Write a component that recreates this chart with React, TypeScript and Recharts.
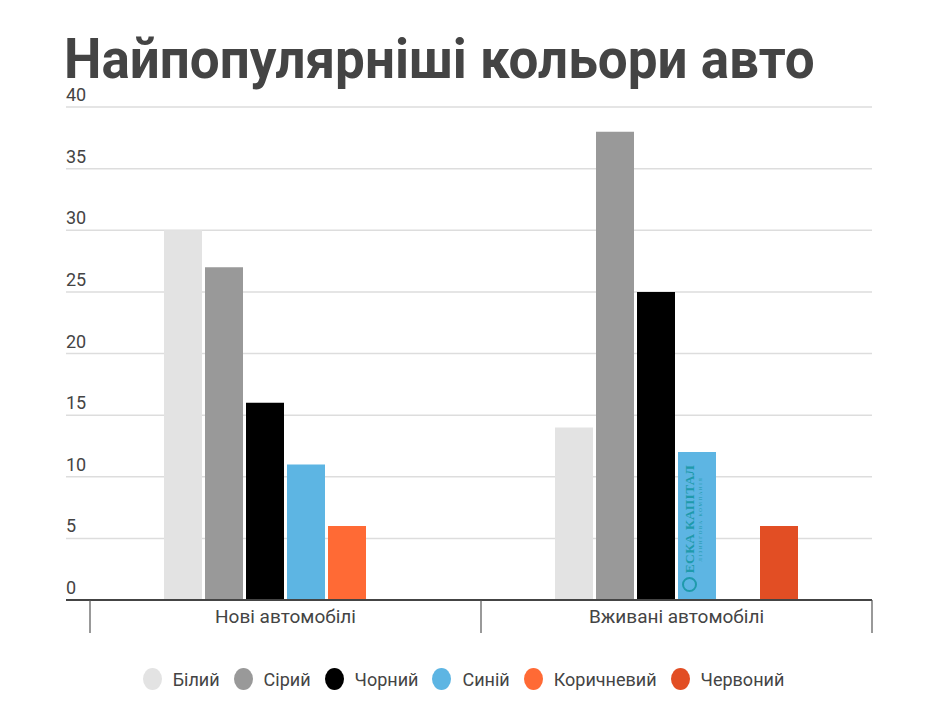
import React from 'react';
import { BarChart, Bar, XAxis, YAxis, CartesianGrid, Legend } from 'recharts';

const categories = ['Нові автомобілі', 'Вживані автомобілі'];
const seriesNames = ['Білий', 'Сірий', 'Чорний', 'Синій', 'Коричневий', 'Червоний'];
const seriesKeys = ['white', 'gray', 'black', 'blue', 'brown', 'red'];
const white = [30, 14];
const gray = [27, 38];
const black = [16, 25];
const blue = [11, 12];
const brown = [6, null];
const red = [null, 6];
const yTicks = [0, 5, 10, 15, 20, 25, 30, 35, 40];
const seriesColors = ['#e3e3e3', '#999999', '#000000', '#5db5e3', '#ff6a35', '#e24e24'];
const seriesValues = [white, gray, black, blue, brown, red];

const data = categories.map((name, i) => {
  const row: any = { name };
  seriesKeys.forEach((k, j) => {
    row[k] = seriesValues[j][i];
  });
  return row;
});

const W = 927;
const H = 703;
const Y_W = 1;
const MARGIN = { top: 107, right: 55, left: 66 - Y_W, bottom: 23 };
const PLOT_LEFT = MARGIN.left + Y_W;
const PAD_LEFT = 24;
const PLOT_W = W - PLOT_LEFT - MARGIN.right;
const BAND = (PLOT_W - PAD_LEFT) / categories.length;
const TEXT = '#444444';
const FONT = 'Roboto, "Noto Sans", sans-serif';

const XTick = (props: any) => {
  const { x, y, payload } = props;
  const half = BAND / 2;
  const last = payload.index === categories.length - 1;
  return (
    <g>
      <line x1={x - half} x2={x - half} y1={y} y2={y + 33} stroke="#555" strokeWidth={1.2} />
      {last && <line x1={x + half} x2={x + half} y1={y} y2={y + 33} stroke="#555" strokeWidth={1.2} />}
      <text x={x} y={y + 23} textAnchor="middle" fill={TEXT} fontSize={19} fontFamily={FONT}>
        {payload.value}
      </text>
    </g>
  );
};

const YTick = (props: any) => {
  const { y, payload } = props;
  return (
    <text x={PLOT_LEFT} y={y - 6} textAnchor="start" fill={TEXT} fontSize={18} fontFamily={FONT}>
      {payload.value}
    </text>
  );
};

const LegendContent = (props: any) => {
  const { payload = [] } = props;
  const items = [...payload].sort(
    (a: any, b: any) => seriesNames.indexOf(a.value) - seriesNames.indexOf(b.value)
  );
  return (
    <div
      style={{
        display: 'flex',
        justifyContent: 'center',
        alignItems: 'center',
        height: 40,
        fontFamily: FONT,
        fontSize: 18,
        color: TEXT,
      }}
    >
      {items.map((p: any, i: number) => (
        <div
          key={i}
          style={{ display: 'flex', alignItems: 'center', marginRight: i < items.length - 1 ? 14 : 0 }}
        >
          <span
            style={{
              display: 'inline-block',
              width: 19,
              height: 22,
              borderRadius: '50%',
              background: p.color,
              marginRight: 11,
            }}
          />
          <span>{p.value}</span>
        </div>
      ))}
    </div>
  );
};

export default function App() {
  return (
    <div style={{ position: 'absolute', left: 0, top: 0, width: W, height: H, background: '#fff', overflow: 'hidden' }}>
      <div
        style={{
          position: 'absolute',
          left: 64,
          top: 40,
          fontFamily: FONT,
          fontWeight: 700,
          fontSize: 53,
          lineHeight: '40px',
          color: TEXT,
          whiteSpace: 'nowrap',
          transform: 'scaleY(1.06)',
          transformOrigin: '0 38px',
        }}
      >
        Найпопулярніші кольори авто
      </div>
      <div style={{ position: 'absolute', left: 0, top: 0 }}>
        <BarChart width={W} height={H} data={data} margin={MARGIN} barCategoryGap={74} barGap={3}>
          <CartesianGrid horizontal vertical={false} stroke="#dddddd" strokeWidth={1.5} />
          <XAxis
            dataKey="name"
            padding={{ left: PAD_LEFT, right: 0 }}
            height={40}
            tickLine={false}
            tickSize={0}
            tickMargin={0}
            axisLine={{ stroke: '#444', strokeWidth: 2 }}
            tick={<XTick />}
            interval={0}
          />
          <YAxis
            width={Y_W}
            domain={[0, 40]}
            ticks={yTicks}
            tickLine={false}
            axisLine={false}
            tickSize={0}
            tickMargin={0}
            tick={<YTick />}
            interval={0}
          />
          <Legend
            verticalAlign="bottom"
            content={<LegendContent />}
            wrapperStyle={{ left: 0, width: W, top: 659, bottom: 'auto', height: 40 }}
          />
          {seriesKeys.map((k, j) => (
            <Bar key={k} dataKey={k} name={seriesNames[j]} fill={seriesColors[j]} isAnimationActive={false} />
          ))}
        </BarChart>
      </div>
      <div
        style={{
          position: 'absolute',
          left: 693,
          top: 519,
          transform: 'translate(-50%, -50%) rotate(-90deg)',
          color: '#1f9aab',
          fontFamily: '"Liberation Serif", serif',
          whiteSpace: 'nowrap',
          textAlign: 'center',
          lineHeight: 1,
        }}
      >
        <div style={{ fontSize: 13.5, fontWeight: 700, letterSpacing: 0.3 }}>ЕСКА КАПІТАЛ</div>
        <div style={{ fontSize: 5, letterSpacing: 1.6, marginTop: 1 }}>ЛІЗИНГОВА КОМПАНІЯ</div>
      </div>
      <div
        style={{
          position: 'absolute',
          left: 682,
          top: 577,
          width: 15,
          height: 15,
          borderRadius: '50%',
          border: '2px solid #1f9aab',
          boxSizing: 'border-box',
        }}
      />
    </div>
  );
}
